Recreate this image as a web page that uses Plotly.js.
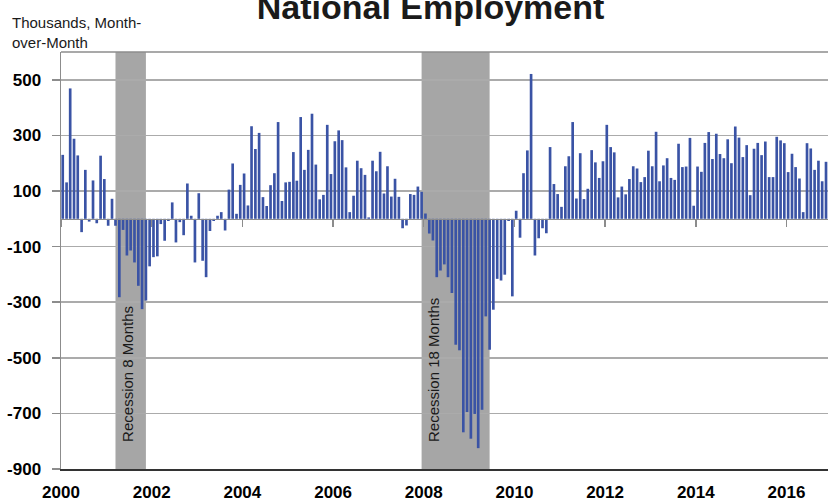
<!DOCTYPE html>
<html>
<head>
<meta charset="utf-8">
<script src="https://cdn.plot.ly/plotly-3.0.1.min.js"></script>
<style>html,body{margin:0;padding:0;background:#fff;}#chart{width:828px;height:504px;}</style>
</head>
<body>
<div id="chart"></div>
<script>
// Monthly change in nonfarm payrolls, thousands
const y2000 = [230, 131, 469, 288, 228, -48, 176, -10, 138, -16, 227, 143];
const y2001 = [-25, 72, -25, -282, -40, -132, -114, -157, -241, -325, -294, -171];
const y2002 = [-138, -135, -19, -79, -8, 59, -85, -12, -59, 127, 11, -157];
const y2003 = [92, -151, -210, -44, -8, 11, 24, -42, 105, 199, 18, 122];
const y2004 = [163, 48, 333, 251, 309, 78, 46, 121, 164, 348, 64, 131];
const y2005 = [133, 240, 137, 366, 176, 248, 378, 195, 70, 86, 338, 161];
const y2006 = [279, 318, 283, 185, 24, 83, 209, 182, 158, 5, 209, 171];
const y2007 = [241, 91, 189, 80, 144, 79, -34, -24, 89, 86, 116, 97];
const y2008 = [19, -53, -78, -210, -186, -164, -210, -267, -453, -473, -768, -695];
const y2009 = [-791, -702, -825, -687, -351, -471, -327, -216, -222, -201, -8, -279];
const y2010 = [29, -68, 164, 246, 521, -132, -70, -34, -52, 258, 125, 89];
const y2011 = [43, 189, 225, 348, 73, 236, 71, 108, 247, 203, 147, 207];
const y2012 = [338, 258, 239, 77, 116, 88, 143, 189, 181, 132, 150, 245];
const y2013 = [189, 313, 135, 192, 218, 147, 140, 270, 186, 188, 291, 47];
const y2014 = [188, 169, 273, 312, 215, 306, 233, 218, 286, 200, 332, 292];
const y2015 = [222, 265, 85, 252, 273, 229, 278, 150, 150, 295, 282, 272];
const y2016 = [168, 234, 186, 145, 24, 272, 253, 176, 209, 135, 205];

const years = [2000,2001,2002,2003,2004,2005,2006,2007,2008,2009,2010,2011,2012,2013,2014,2015,2016];
const yearData = [y2000,y2001,y2002,y2003,y2004,y2005,y2006,y2007,y2008,y2009,y2010,y2011,y2012,y2013,y2014,y2015,y2016];

// Recessions
const recStart = ['2001-03-15', '2007-12-15'];
const recEnd   = ['2001-11-15', '2009-06-15'];
const recLabel = ['Recession 8 Months', 'Recession 18 Months'];

const yTicks = [-900, -700, -500, -300, -100, 100, 300, 500];

// Build series
const dates = [], values = [];
years.forEach((yr, k) => {
  yearData[k].forEach((v, m) => {
    dates.push(yr + '-' + String(m + 1).padStart(2, '0') + '-15');
    values.push(v);
  });
});

const FONT = 'Liberation Sans, Arial, Helvetica, sans-serif';
const xRange = ['2000-01-01', '2016-12-01'];

const traces = [
  {
    type: 'bar', x: dates, y: values,
    marker: {color: '#3a53a5', line: {width: 0}},
    width: 21.5 * 864e5,
    hoverinfo: 'x+y', showlegend: false
  },
  {
    type: 'scatter', x: dates, y: values, xaxis: 'x2', mode: 'none',
    hoverinfo: 'skip', showlegend: false
  }
];

const shapes = recStart.map((s, k) => ({
  type: 'rect', xref: 'x', yref: 'paper', x0: s, x1: recEnd[k], y0: 0, y1: 1,
  fillcolor: '#a6a6a6', line: {width: 0}, layer: 'between'
}));
shapes.push({type: 'line', xref: 'paper', yref: 'paper', x0: 0, x1: 1, y0: 1, y1: 1,
  line: {color: '#8c8c8c', width: 1.5}});

const annotations = recStart.map((s, k) => ({
  xref: 'x', yref: 'y',
  x: new Date(Date.parse(s) + 100 * 864e5).toISOString().slice(0, 10),
  y: -810, xanchor: 'center', yanchor: 'bottom',
  text: recLabel[k], textangle: -90, showarrow: false,
  font: {family: FONT, size: 15, color: '#1a1a1a'}
}));
annotations.push({
  xref: 'paper', yref: 'paper', x: -0.066, y: 1.097, xanchor: 'left', yanchor: 'top',
  align: 'left', showarrow: false,
  text: 'Thousands, Month-<br>over-Month',
  font: {family: FONT, size: 15, color: '#1a1a1a'}
});

const layout = {
  width: 828, height: 504,
  margin: {l: 61, r: 0, t: 52, b: 35, pad: 0},
  paper_bgcolor: '#ffffff', plot_bgcolor: '#ffffff',
  font: {family: FONT, color: '#000'},
  title: {
    text: '<b>National Employment</b>',
    font: {family: FONT, size: 34, color: '#1a1a1a'},
    xref: 'container', x: 0.52, xanchor: 'center',
    yref: 'container', y: 0.986, yanchor: 'middle'
  },
  bargap: 0.3,
  xaxis: {
    type: 'date', range: xRange,
    tick0: '2000-01-01', dtick: 'M24', tickformat: '%Y',
    showgrid: false, zeroline: false,
    showline: true, linecolor: '#333333', linewidth: 2,
    ticks: '', ticklabelstandoff: 7,
    tickfont: {family: FONT, size: 17, color: '#000', weight: 'bold'}
  },
  xaxis2: {
    type: 'date', range: xRange, overlaying: 'x', anchor: 'free', position: 0.6,
    tick0: '2000-01-01', dtick: 'M24',
    showgrid: false, zeroline: false, showticklabels: false,
    showline: true, linecolor: '#8c8c8c', linewidth: 1.5,
    ticks: 'outside', ticklen: 7, tickwidth: 1.5, tickcolor: '#8c8c8c'
  },
  yaxis: {
    range: [-900, 600], tickvals: yTicks, ticktext: yTicks.map(String),
    showgrid: true, gridcolor: '#ababab', gridwidth: 1.5,
    zeroline: false,
    showline: true, linecolor: '#8c8c8c', linewidth: 1.5,
    ticks: 'outside', ticklen: 8, tickwidth: 1.5, tickcolor: '#8c8c8c',
    ticklabelstandoff: 7,
    tickfont: {family: FONT, size: 17, color: '#000', weight: 'bold'}
  },
  shapes: shapes,
  annotations: annotations
};

Plotly.newPlot('chart', traces, layout, {staticPlot: true, displayModeBar: false});
</script>
</body>
</html>
